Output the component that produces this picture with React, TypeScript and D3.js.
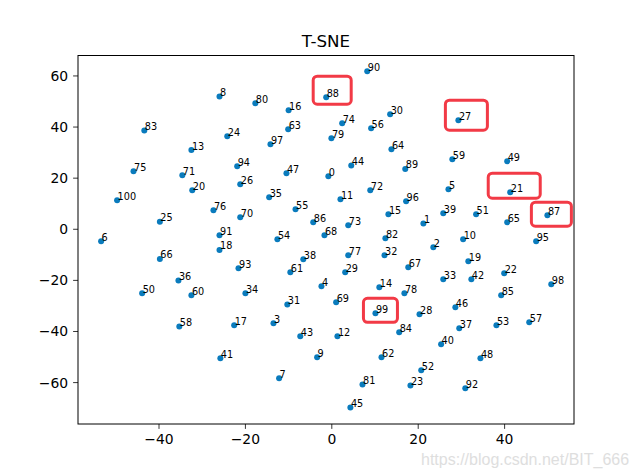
import React from "react";
import * as d3 from "d3";

const labels: number[] = Array.from({ length: 101 }, (_, i) => i);
const xs: number[] = [
  -0.8, 21.2, 23.5, -13.5, -2.4, 27.0, -53.4, -12.2, -26.0, -3.4,
  30.4, 2.0, 1.3, -32.5, 11.0, 13.1, -10.0, -22.6, -26.0, 31.6,
  -32.3, 41.3, 39.9, 18.2, -24.2, -39.8, -21.2, 29.3, 20.3, 3.1,
  13.5, -10.3, 12.2, 25.8, -20.0, -14.5, -35.5, 29.5, -6.6, 25.8,
  25.3, -25.8, 32.3, -7.3, 4.5, 4.3, 28.6, -10.5, 34.4, 40.6,
  -43.9, 33.4, 20.7, 38.1, -12.6, -8.4, 9.1, 45.7, -35.3, 27.9,
  -32.5, -9.6, 11.5, -10.1, 13.8, 40.6, -39.8, 17.7, -1.7, 1.0,
  -21.2, -34.6, 8.9, 3.8, 2.4, -45.9, -27.4, 3.8, 16.8, -0.1,
  -17.7, 7.1, 12.4, -43.4, 15.6, 39.2, -4.3, 49.9, -1.3, 17.0,
  8.2, -26.0, 30.9, -21.6, -21.9, 47.3, 17.2, -14.2, 50.8, 10.1,
  -49.7,
];
const ys: number[] = [
  20.7, 2.3, -7.0, -36.8, -22.3, 15.7, -4.7, -58.3, 52.0, -50.1,
  -3.9, 11.7, -41.9, 31.0, -22.7, 5.9, 46.6, -37.6, -8.1, -12.5,
  15.3, 14.5, -17.2, -61.1, 36.4, 2.9, 17.6, 42.7, -33.3, -16.8,
  45.0, -29.4, -10.2, -19.6, -25.0, 12.5, -20.0, -38.7, -11.7, 6.3,
  -45.0, -50.5, -19.6, -41.9, 25.0, -69.7, -30.5, 21.9, -50.5, 26.6,
  -25.0, 5.9, -55.2, -37.6, -3.9, 7.8, 39.5, -36.4, -38.0, 27.4,
  -25.8, -16.8, -50.1, 39.1, 31.3, 2.7, -11.6, -14.9, -2.3, -28.6,
  4.7, 21.1, 15.3, 1.6, 41.5, 22.7, 7.4, -10.2, -25.0, 35.6,
  49.3, -60.7, -3.5, 38.7, -40.3, -25.8, 2.7, 5.5, 51.7, 23.6,
  61.8, -2.3, -62.2, -15.3, 24.7, -4.7, 11.0, 33.3, -21.5, -32.9,
  11.4,
];
const xTicks: number[] = [-40, -20, 0, 20, 40];
const yTicks: number[] = [-60, -40, -20, 0, 20, 40, 60];
const highlighted: number[] = [88, 27, 21, 87, 99];
const title = "T-SNE";
const watermark = "https://blog.csdn.net/BIT_666";

// annotation box extents around the highlighted points (pixels relative to the point)
const boxPad: Record<number, [number, number, number, number]> = {
  88: [-13, -21, 38, 28],
  27: [-13, -20, 42, 30],
  21: [-22, -19, 52, 25],
  87: [-16, -13, 40, 24],
  99: [-12, -15, 34, 24],
};

export default function App() {
  const W = 636, H = 476;
  const L = 78, R = 574, T = 55.5, B = 424;
  const x = d3.scaleLinear().domain([-58.75, 56.06]).range([L, R]);
  const y = d3.scaleLinear().domain([-76.2, 68.0]).range([B, T]);
  const font = "DejaVu Sans, sans-serif";
  const dotColor = "#0a7bbd";
  return (
    <svg width={W} height={H} style={{ position: "absolute", left: 0, top: 0, background: "#fff" }}>
      <rect x={0} y={0} width={W} height={H} fill="#fff" />
      {labels.map((l, i) => (
        <g key={l}>
          <circle cx={x(xs[i])} cy={y(ys[i])} r={3} fill={dotColor} />
          <text x={x(xs[i]) + 0.5} y={y(ys[i]) - 0.5} fontFamily={font} fontSize={9.7} fill="#000">
            {l}
          </text>
        </g>
      ))}
      {highlighted.map((l) => {
        const p = boxPad[l];
        return (
          <rect
            key={"h" + l}
            x={x(xs[l]) + p[0]}
            y={y(ys[l]) + p[1]}
            width={p[2]}
            height={p[3]}
            rx={4}
            ry={4}
            fill="none"
            stroke="#f23a46"
            strokeWidth={3}
          />
        );
      })}
      <rect x={L} y={T} width={R - L} height={B - T} fill="none" stroke="#000" strokeWidth={1} />
      {xTicks.map((t) => (
        <g key={"x" + t}>
          <line x1={x(t)} x2={x(t)} y1={B} y2={B + 4.9} stroke="#000" strokeWidth={0.8} />
          <text x={x(t)} y={B + 9.8 + 10.2} textAnchor="middle" fontFamily={font} fontSize={13.9} fill="#000">
            {t < 0 ? "\u2212" + Math.abs(t) : String(t)}
          </text>
        </g>
      ))}
      {yTicks.map((t) => (
        <g key={"y" + t}>
          <line x1={L - 4.9} x2={L} y1={y(t)} y2={y(t)} stroke="#000" strokeWidth={0.8} />
          <text x={L - 9.8} y={y(t) + 5} textAnchor="end" fontFamily={font} fontSize={13.9} fill="#000">
            {t < 0 ? "\u2212" + Math.abs(t) : String(t)}
          </text>
        </g>
      ))}
      <text x={(L + R) / 2} y={47} textAnchor="middle" fontFamily={font} fontSize={16.7} fill="#000">
        {title}
      </text>
      <text x={421} y={465} fontFamily="Liberation Sans, Arial, sans-serif" fontSize={16} fill="#dedede">
        {watermark}
      </text>
    </svg>
  );
}
